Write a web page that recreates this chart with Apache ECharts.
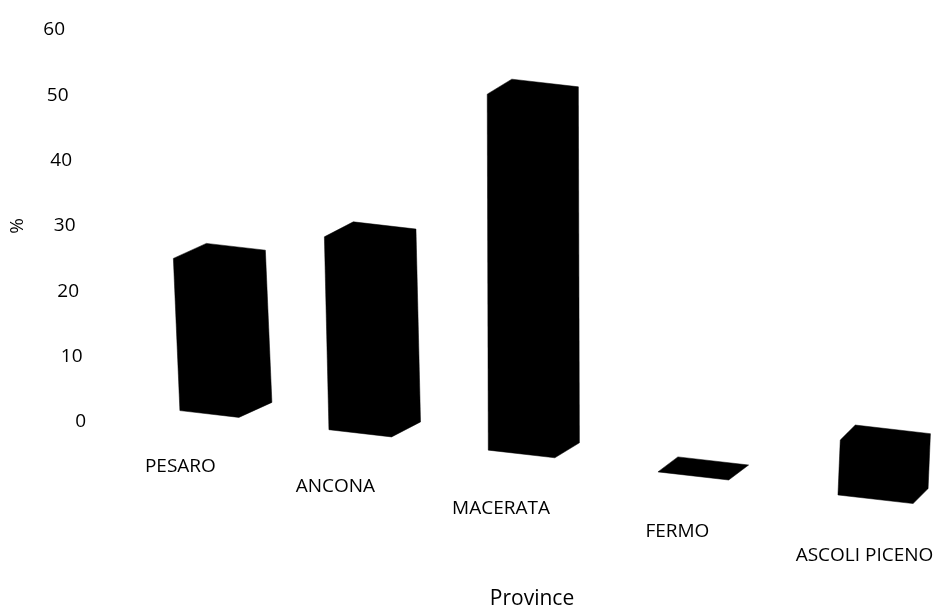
<!DOCTYPE html>
<html>
<head>
<meta charset="utf-8">
<script src="https://cdn.jsdelivr.net/npm/echarts@6/dist/echarts.min.js"></script>
<style>html,body{margin:0;padding:0;background:#fff;}#c{width:933px;height:605px;}</style>
</head>
<body>
<div id="c"></div>
<script>
const categories = ['PESARO', 'ANCONA', 'MACERATA', 'FERMO', 'ASCOLI PICENO'];
const values = [23.3, 27.8, 48.3, 0, 6.6];
const yTicks = [0, 10, 20, 30, 40, 50, 60];

const FONT = '"Open Sans", sans-serif';

// perspective styling of the pseudo-3D boxes (pixel-space style params)
const persp = {
  spreadA: 0.9057, spreadB: 0.000202,  // horizontal perspective spread
  baseDrop: -8, floorSlope: 0.128,     // floor tilt
  w0: 59, wGrow: 0.0242,               // box width growth
  edgeSlope: 0.115,                    // front edge slope
  dx0: 33, dxShrink: 0.027, dy: -15,   // depth offset
  vanishX: 335.5, vanishD: 7825,       // vertical lean
  labelDx: -29, labelDxGrow: 0.027, labelDy: 53, labelDyGrow: 0.005
};

function renderItem(params, api) {
  const i = api.value(0), v = api.value(1);
  const first = api.coord([0, 0]);
  const p0 = api.coord([i, 0]);
  const p1 = api.coord([i, v]);
  const u = p0[0] - first[0];
  const rel = persp.spreadA * u + persp.spreadB * u * u;
  const Xc = first[0] + rel;
  const baseY = p0[1] + persp.baseDrop + persp.floorSlope * rel;
  const w = persp.w0 + persp.wGrow * rel;
  const h = (p0[1] - p1[1]) * w / persp.w0;
  const lean = (rel - persp.vanishX) / persp.vanishD;
  const dx = persp.dx0 - persp.dxShrink * rel, dy = persp.dy;
  const s = persp.edgeSlope;
  const xL = Xc - w / 2, yL = baseY - s * w / 2;
  const FBL = [xL, yL];
  const FBR = [xL + w, yL + s * w];
  const BBR = [FBR[0] + dx, FBR[1] + dy];
  const TBR = [BBR[0] + lean * h, BBR[1] - h];
  const TBL = [xL + dx + lean * h, yL + dy - h];
  const TFL = [xL + lean * h, yL - h];
  return {
    type: 'group',
    children: [
      {
        type: 'polygon',
        shape: { points: [FBL, FBR, BBR, TBR, TBL, TFL] },
        style: { fill: '#000', stroke: '#000', lineWidth: 0.5 }
      },
      {
        type: 'text',
        x: Xc + persp.labelDx + persp.labelDxGrow * rel,
        y: baseY + persp.labelDy + persp.labelDyGrow * rel,
        style: {
          text: categories[i],
          fill: '#000',
          font: '19px ' + FONT,
          align: 'center',
          verticalAlign: 'middle'
        }
      }
    ]
  };
}

const rich = {};
yTicks.forEach(t => {
  rich['t' + t] = { padding: [0, 0.35 * t, 0, 0], fontSize: 19, fontFamily: FONT, color: '#000' };
});

const chart = echarts.init(document.getElementById('c'), null, { renderer: 'canvas' });
chart.setOption({
  animation: false,
  backgroundColor: '#fff',
  title: {
    text: 'Province',
    left: 527,
    textAlign: 'center',
    top: 584,
    textStyle: { fontFamily: FONT, fontSize: 21, fontWeight: 'normal', color: '#000' }
  },
  grid: { left: 127, right: 0, top: 30, bottom: 183, containLabel: false },
  xAxis: {
    type: 'category',
    data: categories,
    axisLine: { show: false },
    axisTick: { show: false },
    axisLabel: { show: false },
    splitLine: { show: false }
  },
  yAxis: {
    type: 'value',
    min: 0,
    max: 60,
    interval: 10,
    name: '%',
    nameLocation: 'middle',
    nameRotate: 90,
    nameGap: 102,
    nameTextStyle: { fontFamily: FONT, fontSize: 19, color: '#000' },
    axisLine: { show: false },
    axisTick: { show: false },
    splitLine: { show: false },
    axisLabel: {
      margin: 43,
      formatter: val => '{t' + val + '|' + val + '}',
      rich: rich
    }
  },
  series: [{
    type: 'custom',
    renderItem: renderItem,
    clip: false,
    data: values.map((v, i) => [i, v])
  }]
});
</script>
</body>
</html>
